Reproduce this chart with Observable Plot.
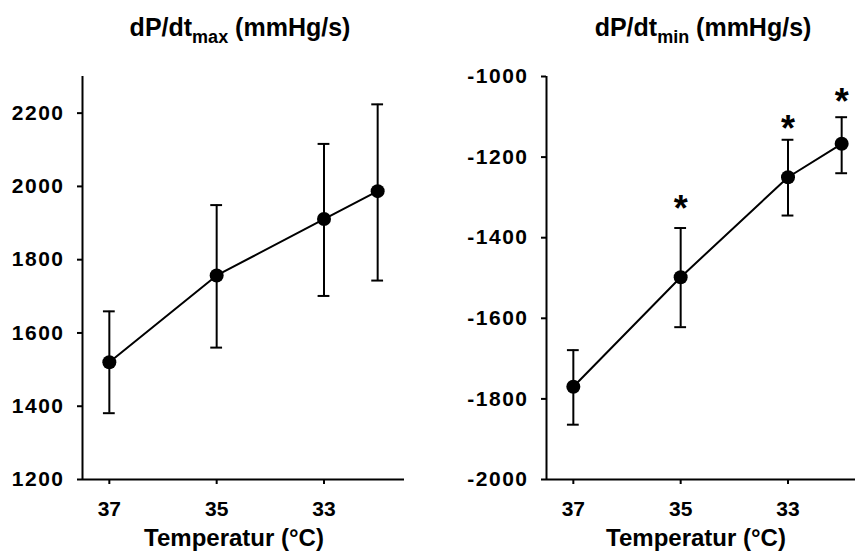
<!DOCTYPE html>
<html><head><meta charset="utf-8">
<script src="https://cdn.jsdelivr.net/npm/d3@7"></script>
<script src="https://cdn.jsdelivr.net/npm/@observablehq/plot@0.6"></script>
<style>
html,body{margin:0;padding:0;background:#fff;}
body{width:855px;height:554px;overflow:hidden;font-family:"Liberation Sans",Arial,sans-serif;color:#000;}
#wrap{position:relative;width:855px;height:554px;overflow:hidden;}
.panel{position:absolute;top:0;}
.panel g[aria-label="y-axis tick label"] text{letter-spacing:1.5px;}
.title{position:absolute;top:13px;font-weight:bold;font-size:25px;line-height:28px;white-space:nowrap;transform:translateX(-50%);}
.title sub{font-size:18px;vertical-align:-7px;line-height:0;}
.xlabel{position:absolute;top:524px;font-weight:bold;font-size:24px;line-height:28px;white-space:nowrap;transform:translateX(-50%);}
</style></head>
<body><div id="wrap"></div>
<script>
// ---- data ----
const temps = [37, 35, 33, 32];
const xTicks = [37, 35, 33];
const maxMean = [1520, 1757, 1911, 1987];
const maxLow  = [1381, 1560, 1701, 1743];
const maxHigh = [1659, 1949, 2116, 2224];
const maxTicks = [1200, 1400, 1600, 1800, 2000, 2200];
const maxDomain = [1200, 2300];
const minMean = [-1770, -1498, -1250, -1167];
const minLow  = [-1864, -1622, -1345, -1240];
const minHigh = [-1679, -1376, -1157, -1101];
const minTicks = [-2000, -1800, -1600, -1400, -1200, -1000];
const minDomain = [-2000, -1000];
const starTemps = [35, 33, 32];
const starY = [-1307, -1109, -1043];
const xDomain = [37.5, 31.5];

function makePanel(mean, low, high, yDomain, yTicks, stars) {
  const rows = temps.map((t, i) => ({t, m: mean[i], lo: low[i], hi: high[i]}));
  const capHalf = 0.11;
  const marks = [
    Plot.ruleY([yDomain[0]], {stroke: "#000", strokeWidth: 2}),
    Plot.ruleX([xDomain[0]], {stroke: "#000", strokeWidth: 2}),
    Plot.axisY({ticks: yTicks, tickSize: 5, tickPadding: 13, fontSize: 21, fontWeight: "bold", label: null, strokeWidth: 2, tickFormat: d => String(d)}),
    Plot.axisX({ticks: xTicks, tickSize: 5, tickPadding: 17, fontSize: 21, fontWeight: "bold", label: null, strokeWidth: 2, tickFormat: d => String(d)}),
    Plot.ruleX(rows, {x: "t", y1: "lo", y2: "hi", stroke: "#000", strokeWidth: 2}),
    Plot.ruleY(rows, {y: "hi", x1: d => d.t + capHalf, x2: d => d.t - capHalf, stroke: "#000", strokeWidth: 2}),
    Plot.ruleY(rows, {y: "lo", x1: d => d.t + capHalf, x2: d => d.t - capHalf, stroke: "#000", strokeWidth: 2}),
    Plot.line(rows, {x: "t", y: "m", stroke: "#000", strokeWidth: 2}),
    Plot.dot(rows, {x: "t", y: "m", r: 7, fill: "#000", stroke: "none"})
  ];
  if (stars) {
    const srows = stars.t.map((t, i) => ({t, y: stars.y[i]}));
    marks.push(Plot.text(srows, {x: "t", y: "y", text: () => "*", fontSize: 36, fontWeight: "bold", fill: "#000", lineAnchor: "middle", dy: 9}));
  }
  return Plot.plot({
    width: 430, height: 554,
    marginLeft: 82, marginRight: 26, marginTop: 76, marginBottom: 75,
    x: {domain: xDomain},
    y: {domain: yDomain},
    style: {fontFamily: "'Liberation Sans', Arial, sans-serif", color: "#000", background: "transparent", overflow: "visible"},
    marks
  });
}

const wrap = document.getElementById("wrap");
function place(el, left) { el.classList.add("panel"); el.style.left = left + "px"; wrap.appendChild(el); }
place(makePanel(maxMean, maxLow, maxHigh, maxDomain, maxTicks, null), 0);
place(makePanel(minMean, minLow, minHigh, minDomain, minTicks, {t: starTemps, y: starY}), 464);

function addText(cls, html, x) {
  const d = document.createElement("div");
  d.className = cls; d.innerHTML = html; d.style.left = x + "px";
  wrap.appendChild(d);
}
addText("title", "dP/dt<sub>max</sub> (mmHg/s)", 240);
addText("title", "dP/dt<sub>min</sub> (mmHg/s)", 703);
addText("xlabel", "Temperatur (°C)", 234);
addText("xlabel", "Temperatur (°C)", 696);
</script>
</body></html>
